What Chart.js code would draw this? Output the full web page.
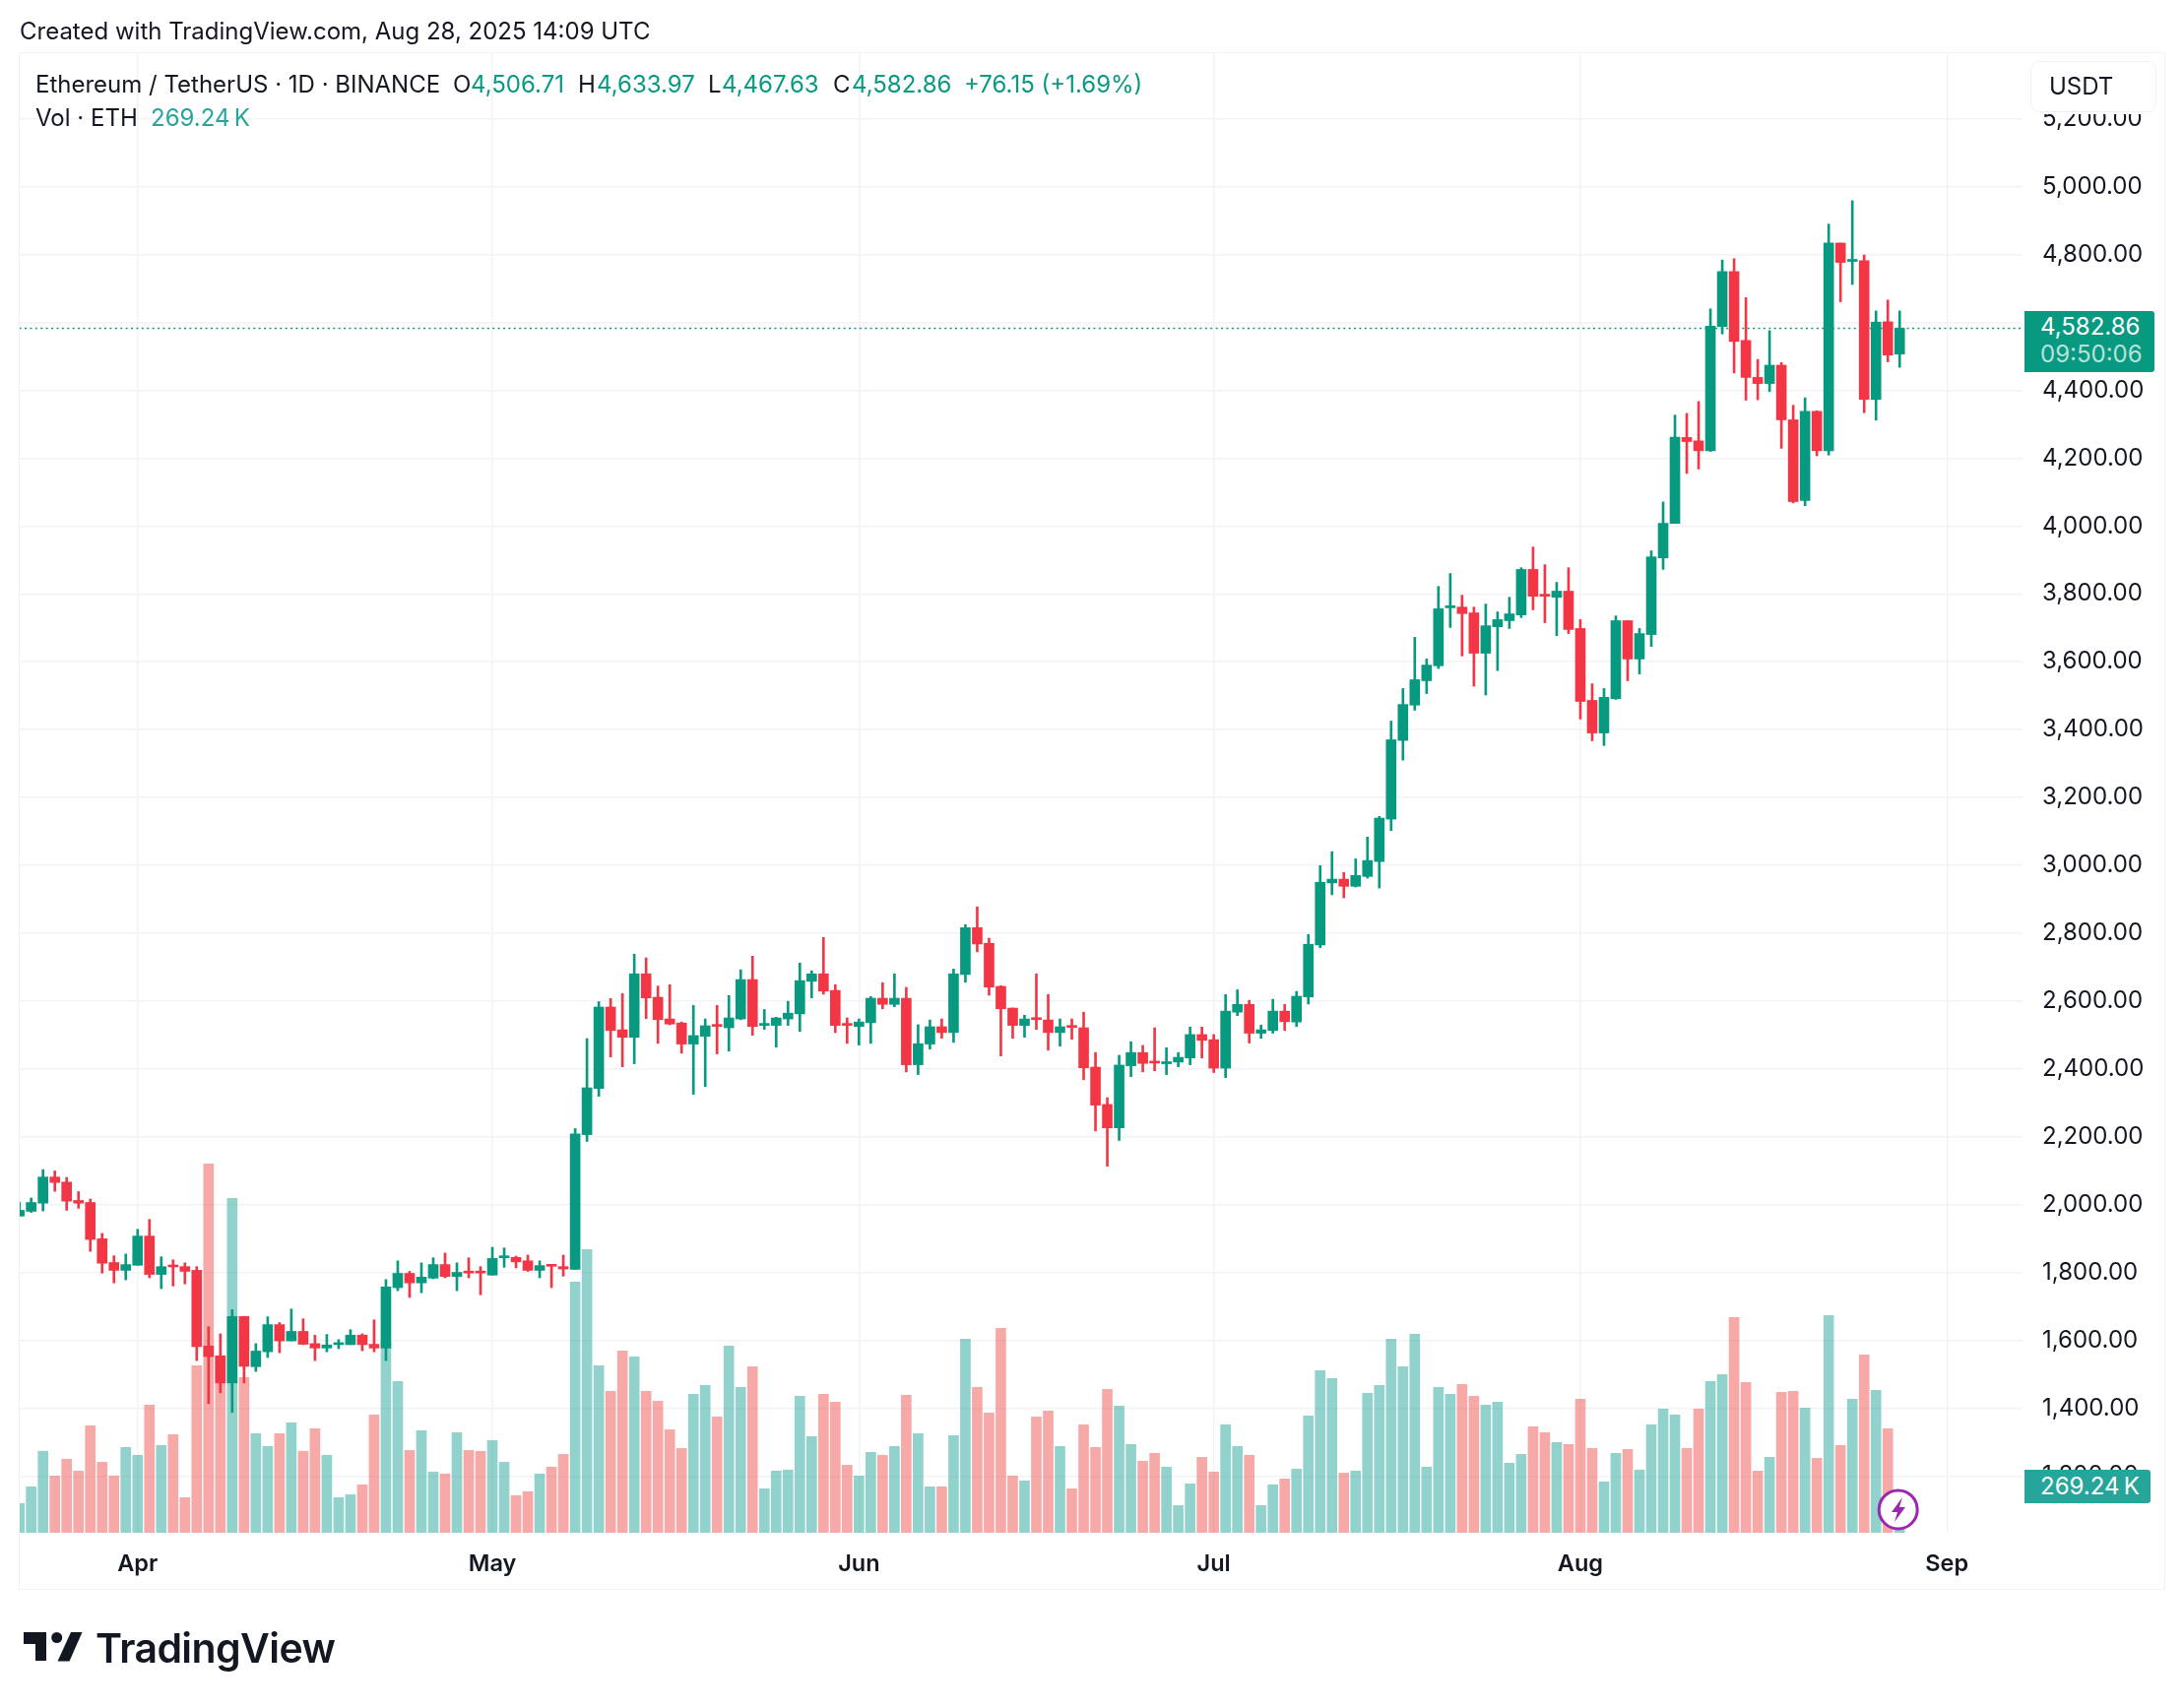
<!DOCTYPE html>
<html>
<head>
<meta charset="utf-8">
<title>ETHUSDT</title>
<script src="https://cdn.jsdelivr.net/npm/chart.js@4"></script>
<style>
    html, body { margin: 0; padding: 0; background: #fff; }
    body { width: 2218px; height: 1734px; position: relative; overflow: hidden; font-family: Inter, sans-serif; color: #131722; }
    canvas { position: absolute; left: 0; top: 0; }
    .txt { position: absolute; font-size: 24px; line-height: 28px; white-space: pre; }
    .green { color: #089981; }
    .teal { color: #26a69a; }
    #frame { position: absolute; left: 19px; top: 53px; width: 2178px; height: 1560px; border: 1px solid #f1f2f5; box-sizing: content-box; }
    #usdt { position: absolute; left: 2062px; top: 62px; width: 126px; height: 50px; background: #fff; border: 1px solid #f0f1f4; border-radius: 9px; box-shadow: 0 2px 0 #fff; }
    #priceBadge { position: absolute; left: 2056px; top: 316px; width: 132px; height: 62px; background: #089981; border-radius: 0 3px 3px 0; }
    #volBadge { position: absolute; left: 2056px; top: 1493px; width: 128px; height: 34px; background: #26a69a; border-radius: 0 3px 3px 0; }
    svg { position: absolute; left: 0; top: 0; }
</style>
</head>
<body>
<div id="frame"></div>
<canvas id="chart" width="2218" height="1734"></canvas>

<div class="txt" style="left:20px;top:18px">Created with TradingView.com, Aug 28, 2025 14:09 UTC</div>

<div class="txt" style="left:36px;top:72px">Ethereum / TetherUS · 1D · BINANCE</div>
<div class="txt" style="left:460px;top:72px">O</div>
<div class="txt green" style="left:478px;top:72px">4,506.71</div>
<div class="txt" style="left:587px;top:72px">H</div>
<div class="txt green" style="left:606px;top:72px">4,633.97</div>
<div class="txt" style="left:719px;top:72px">L</div>
<div class="txt green" style="left:733px;top:72px">4,467.63</div>
<div class="txt" style="left:846px;top:72px">C</div>
<div class="txt green" style="left:865px;top:72px">4,582.86</div>
<div class="txt green" style="left:979px;top:72px">+76.15 (+1.69%)</div>
<div class="txt" style="left:36px;top:106px">Vol · ETH</div>
<div class="txt teal" style="left:153px;top:106px">269.24&#8201;K</div>

<div id="usdt"></div>
<div class="txt" style="left:2081px;top:74px">USDT</div>

<div id="priceBadge"></div>
<div class="txt" style="left:2072px;top:318px;color:#fff">4,582.86</div>
<div class="txt" style="left:2072px;top:346px;color:rgba(255,255,255,.72)">09:50:06</div>
<div id="volBadge"></div>
<div class="txt" style="left:2072px;top:1496px;color:#fff">269.24&#8201;K</div>

<svg width="2218" height="1734">
    <circle cx="1927.7" cy="1533.4" r="19.5" fill="#fff" stroke="#9c27b0" stroke-width="3"></circle>
    <path d="M1932 1521 L1921 1536 L1927 1536 L1924 1546 L1935 1531 L1929 1531 Z" fill="#9c27b0"></path>
    <path d="M24 1658 H47 V1687 H36 V1670 H24 Z" fill="#131722"></path>
    <circle cx="57.7" cy="1663.5" r="5.5" fill="#131722"></circle>
    <path d="M72 1658 H83.5 L70.5 1687.5 H58.5 Z" fill="#131722"></path>
</svg>
<div class="txt" style="left:97px;top:1650px;font-size:41px;line-height:48px;font-weight:600;letter-spacing:-0.6px">TradingView</div>

<script>
// daily candles from Mar 22 to Aug 28 2025, index 0 = Mar 22
const opens = [
    1966, 1980, 2004, 2081, 2066, 2012, 2006, 1899, 1829, 1806,
    1821, 1907, 1794, 1820, 1817, 1806, 1583, 1554, 1474, 1670,
    1522, 1566, 1646, 1598, 1626, 1590, 1577, 1587, 1587, 1615,
    1588, 1577, 1755, 1797, 1769, 1783, 1823, 1788, 1802, 1802,
    1792, 1843, 1844, 1834, 1806, 1822, 1817, 1809, 2206, 2342,
    2582, 2515, 2493, 2680, 2611, 2547, 2535, 2473, 2496, 2530,
    2521, 2547, 2663, 2528, 2528, 2547, 2562, 2658, 2680, 2631,
    2532, 2525, 2536, 2608, 2590, 2608, 2412, 2473, 2524, 2507,
    2678, 2816, 2770, 2643, 2579, 2528, 2550, 2544, 2507, 2527,
    2521, 2405, 2295, 2226, 2409, 2448, 2421, 2415, 2420, 2432,
    2501, 2486, 2402, 2567, 2590, 2505, 2513, 2570, 2538, 2612,
    2765, 2948, 2959, 2938, 2967, 3011, 3136, 3368, 3472, 3544,
    3588, 3759, 3761, 3744, 3625, 3703, 3721, 3738, 3872, 3799,
    3790, 3808, 3698, 3486, 3390, 3491, 3721, 3608, 3680, 3906,
    4008, 4261, 4251, 4222, 4588, 4750, 4547, 4438, 4420, 4474,
    4313, 4075, 4338, 4222, 4834, 4780, 4782, 4373, 4602, 4506.71
];
const highs = [
    2007, 2019, 2103, 2099, 2080, 2038, 2016, 1915, 1849, 1854,
    1927, 1956, 1846, 1837, 1828, 1817, 1640, 1619, 1690, 1670,
    1590, 1669, 1652, 1692, 1663, 1615, 1617, 1602, 1631, 1619,
    1660, 1779, 1834, 1803, 1828, 1843, 1857, 1828, 1843, 1817,
    1874, 1872, 1848, 1851, 1834, 1822, 1851, 2224, 2489, 2598,
    2607, 2622, 2738, 2727, 2644, 2648, 2538, 2587, 2547, 2587,
    2616, 2692, 2732, 2575, 2552, 2599, 2712, 2689, 2787, 2648,
    2550, 2547, 2613, 2654, 2680, 2640, 2530, 2544, 2547, 2694,
    2825, 2877, 2785, 2645, 2579, 2558, 2680, 2619, 2547, 2547,
    2567, 2448, 2315, 2440, 2480, 2469, 2521, 2462, 2448, 2523,
    2523, 2501, 2619, 2633, 2602, 2529, 2605, 2590, 2628, 2796,
    2999, 3040, 2979, 3019, 3083, 3144, 3425, 3521, 3672, 3608,
    3822, 3860, 3796, 3761, 3770, 3747, 3790, 3877, 3938, 3886,
    3834, 3877, 3724, 3535, 3521, 3735, 3721, 3698, 3927, 4071,
    4327, 4332, 4367, 4640, 4784, 4788, 4673, 4491, 4576, 4482,
    4356, 4378, 4340, 4890, 4834, 4959, 4799, 4634, 4666, 4633.97
];
const lows = [
    1966, 1977, 1981, 2039, 1983, 1989, 1862, 1798, 1769, 1778,
    1821, 1784, 1752, 1760, 1766, 1540, 1413, 1445, 1387, 1474,
    1508, 1549, 1563, 1598, 1587, 1540, 1566, 1575, 1587, 1569,
    1566, 1540, 1746, 1726, 1740, 1781, 1784, 1746, 1784, 1734,
    1792, 1815, 1813, 1803, 1784, 1755, 1789, 1809, 2186, 2319,
    2435, 2406, 2415, 2548, 2475, 2530, 2446, 2325, 2348, 2444,
    2452, 2545, 2499, 2516, 2464, 2528, 2510, 2609, 2620, 2507,
    2475, 2470, 2475, 2577, 2583, 2391, 2383, 2458, 2490, 2478,
    2655, 2745, 2617, 2438, 2490, 2493, 2516, 2455, 2467, 2487,
    2368, 2217, 2113, 2189, 2377, 2391, 2394, 2383, 2406, 2412,
    2432, 2389, 2374, 2557, 2476, 2490, 2505, 2513, 2525, 2591,
    2757, 2913, 2904, 2936, 2962, 2933, 3102, 3310, 3457, 3506,
    3580, 3701, 3617, 3528, 3502, 3574, 3698, 3730, 3753, 3715,
    3677, 3683, 3431, 3367, 3353, 3489, 3544, 3564, 3645, 3872,
    4008, 4155, 4168, 4220, 4566, 4451, 4371, 4372, 4396, 4229,
    4068, 4060, 4207, 4209, 4661, 4712, 4334, 4312, 4484, 4467.63
];
const closes = [
    1983, 2006, 2081, 2065, 2010, 2004, 1897, 1827, 1806, 1823,
    1907, 1794, 1817, 1816, 1803, 1581, 1552, 1474, 1670, 1523,
    1568, 1646, 1598, 1626, 1588, 1577, 1586, 1590, 1615, 1587,
    1577, 1757, 1797, 1769, 1786, 1823, 1788, 1800, 1798, 1798,
    1841, 1846, 1831, 1806, 1820, 1818, 1810, 2208, 2344, 2582,
    2513, 2493, 2680, 2609, 2545, 2532, 2473, 2498, 2527, 2525,
    2550, 2663, 2525, 2531, 2550, 2564, 2660, 2680, 2629, 2528,
    2528, 2538, 2608, 2590, 2608, 2412, 2474, 2524, 2507, 2680,
    2816, 2768, 2641, 2577, 2528, 2547, 2545, 2507, 2524, 2522,
    2403, 2293, 2226, 2411, 2448, 2416, 2417, 2421, 2434, 2501,
    2484, 2402, 2570, 2590, 2505, 2515, 2570, 2539, 2614, 2767,
    2950, 2959, 2938, 2970, 3014, 3139, 3370, 3474, 3547, 3590,
    3756, 3764, 3742, 3625, 3706, 3724, 3741, 3872, 3793, 3793,
    3808, 3695, 3483, 3390, 3495, 3721, 3608, 3683, 3909, 4008,
    4262, 4249, 4222, 4589, 4750, 4544, 4438, 4420, 4474, 4313,
    4072, 4338, 4222, 4834, 4777, 4784, 4373, 4601, 4504, 4582.86
];
// volume in thousands of ETH
const volumes = [
    200, 314, 557, 388, 503, 422, 732, 482, 388, 583,
    530, 873, 597, 671, 240, 1142, 2522, 1203, 2287, 1061,
    678, 590, 678, 752, 557, 711, 530, 240, 260, 328,
    806, 1302, 1034, 563, 698, 415, 402, 684, 563, 557,
    631, 482, 254, 281, 402, 449, 536, 1714, 1937, 1142,
    967, 1243, 1203, 967, 900, 705, 577, 947, 1008, 792,
    1277, 994, 1135, 301, 422, 429, 934, 657, 947, 893,
    462, 388, 550, 530, 590, 940, 678, 314, 314, 664,
    1324, 994, 819, 1398, 388, 355, 792, 833, 590, 301,
    738, 583, 981, 866, 604, 489, 543, 449, 186, 334,
    516, 415, 738, 590, 530, 186, 328, 368, 435, 799,
    1109, 1055, 408, 422, 954, 1008, 1324, 1135, 1358, 449,
    994, 947, 1014, 934, 873, 893, 476, 536, 725, 684,
    617, 604, 913, 577, 348, 543, 570, 429, 738, 846,
    806, 577, 846, 1034, 1082, 1472, 1028, 422, 516, 960,
    967, 853, 509, 1486, 597, 913, 1216, 974, 711, 269.24
];
const monthTicks = [10, 40, 71, 101, 132, 163];
const monthLabels = ['Apr', 'May', 'Jun', 'Jul', 'Aug', 'Sep'];
const priceTicks = [1200, 1400, 1600, 1800, 2000, 2200, 2400, 2600, 2800, 3000, 3200, 3400, 3600, 3800, 4000, 4200, 4400, 4600, 4800, 5000, 5200];
const lastPrice = 4582.86;

const GREEN = '#089981';
const RED = '#f23645';
const GRID = '#f2f3f6';

let candleColors = closes.map((c, i) => c >= opens[i] ? GREEN : RED);
let volumeColors = closes.map((c, i) => c >= opens[i] ? 'rgba(38,166,154,0.5)' : 'rgba(239,83,80,0.5)');

new Chart(document.getElementById('chart'), {
    type: 'bar',
    data: {
        datasets: [
            {
                label: 'Candle body',
                data: opens.map((o, i) => ({ x: i, y: [o, closes[i]] })),
                backgroundColor: candleColors,
                barThickness: 10,
                grouped: false,
                minBarLength: 2,
                yAxisID: 'y',
                order: 1
            },
            {
                label: 'Candle wick',
                data: lows.map((l, i) => ({ x: i, y: [l, highs[i]] })),
                backgroundColor: candleColors,
                barThickness: 2,
                grouped: false,
                yAxisID: 'y',
                order: 2
            },
            {
                type: 'line',
                label: 'Last price',
                data: [{ x: 0, y: lastPrice }, { x: 170, y: lastPrice }],
                borderColor: GREEN,
                borderWidth: 1.6,
                borderDash: [2, 3.4],
                pointRadius: 0,
                yAxisID: 'y',
                order: 3
            },
            {
                label: 'Volume',
                data: volumes.map((v, i) => ({ x: i, y: v })),
                backgroundColor: volumeColors,
                barThickness: 10,
                grouped: false,
                yAxisID: 'vol',
                order: 4
            }
        ]
    },
    options: {
        responsive: false,
        animation: false,
        devicePixelRatio: 1,
        layout: { padding: { left: 20, top: 54, right: 0, bottom: 120 } },
        plugins: { legend: { display: false }, tooltip: { enabled: false } },
        scales: {
            x: {
                type: 'linear',
                offset: false,
                min: 0.03,
                max: 169.39,
                afterBuildTicks: (scale) => { scale.ticks = monthTicks.map((v) => ({ value: v })); },
                afterFit: (scale) => { scale.height = 57; },
                grid: { color: GRID, lineWidth: 1.5, offset: false, drawTicks: false },
                border: { display: false },
                ticks: {
                    autoSkip: false,
                    maxRotation: 0,
                    padding: 18,
                    color: '#131722',
                    font: { family: 'Inter', size: 23.5, weight: '600' },
                    callback: (v) => monthLabels[monthTicks.indexOf(v)]
                }
            },
            y: {
                position: 'right',
                min: 1032.5,
                max: 5393.8,
                afterBuildTicks: (scale) => { scale.ticks = priceTicks.map((v) => ({ value: v })); },
                afterFit: (scale) => { scale.width = 164; },
                grid: { color: GRID, lineWidth: 1.5, drawTicks: false },
                border: { display: false },
                ticks: {
                    padding: 20,
                    color: '#131722',
                    font: { family: 'Inter', size: 24 },
                    callback: (v) => v.toLocaleString('en-US', { minimumFractionDigits: 2, maximumFractionDigits: 2 })
                }
            },
            vol: {
                display: false,
                min: 0,
                max: 10118
            }
        }
    }
});
</script>
</body>
</html>
